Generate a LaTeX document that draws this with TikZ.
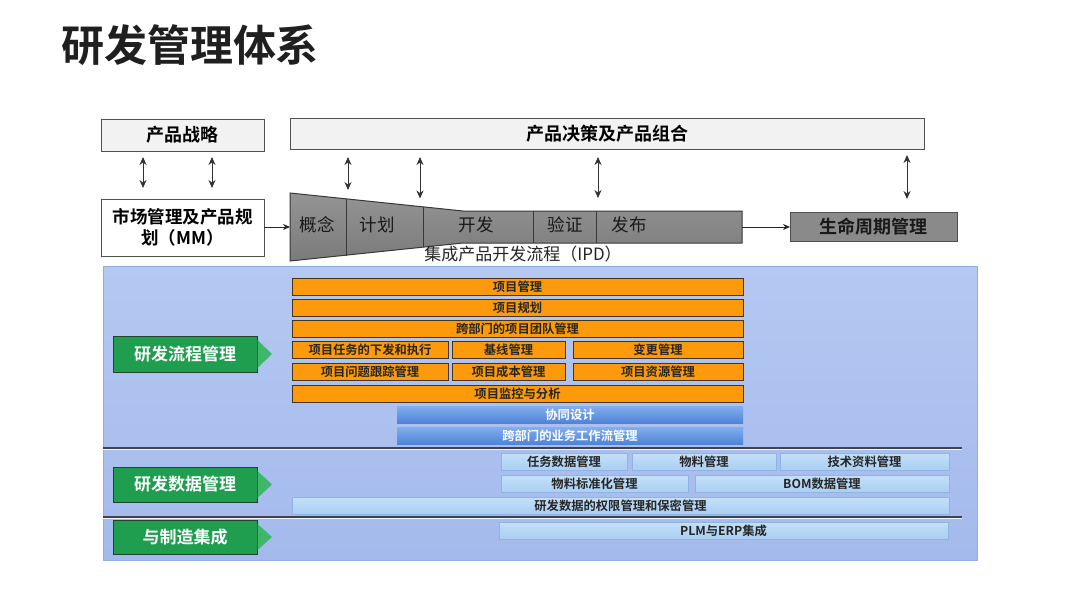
\documentclass[tikz,border=0pt]{standalone}
\usepackage{fontspec}
\setmainfont{Noto Sans CJK SC}[BoldFont={Noto Sans CJK SC Bold}]
\usetikzlibrary{arrows.meta,calc}
\definecolor{boxgray}{HTML}{F2F2F2}
\definecolor{edgegray}{HTML}{505050}
\definecolor{phasegray}{HTML}{8A8A8A}
\definecolor{panelblue}{HTML}{AABFEF}
\definecolor{paneltop}{HTML}{B4C8F2}
\definecolor{panelbot}{HTML}{A4BAEC}
\definecolor{paneledge}{HTML}{8FB0E0}
\definecolor{orangebar}{HTML}{FC9A0C}
\definecolor{orangeedge}{HTML}{4A3418}
\definecolor{bluetop}{HTML}{82AEEF}
\definecolor{bluebot}{HTML}{4F84D8}
\definecolor{lighttop}{HTML}{C4E0F8}
\definecolor{lightbot}{HTML}{AACEF2}
\definecolor{lightedge}{HTML}{8DB4E2}
\definecolor{greenbox}{HTML}{1E9E4E}
\definecolor{greentip}{HTML}{3DB86A}
\definecolor{greenedge}{HTML}{22442E}
\definecolor{sepline}{HTML}{3C4250}
\newcommand\bx[7]{\node[#6, minimum width={(#4-#2)*1pt}, minimum height={(#5-#3)*1pt}] (#1) at ({(#2+#4)/2},{(#3+#5)/2}) {#7};}
\tikzset{
  base/.style={inner sep=0pt, outer sep=0pt, align=center},
  graybox/.style={base, draw=edgegray, line width=1pt, fill=boxgray, font=\fontsize{18}{20}\selectfont\bfseries},
  whitebox/.style={base, draw=edgegray, line width=1pt, fill=white, font=\fontsize{17.5}{21}\selectfont\bfseries},
  lcbox/.style={base, draw=edgegray, line width=1pt, fill=phasegray, font=\fontsize{18}{20}\selectfont\bfseries, text=black!90},
  phase/.style={base, font=\fontsize{17.5}{20}\selectfont, text=black!90},
  orange/.style={base, draw=orangeedge, line width=1pt, fill=orangebar, font=\fontsize{12.3}{14}\selectfont\bfseries, text=black!85},
  bluebar/.style={base, top color=bluetop, bottom color=bluebot, font=\fontsize{12.3}{14}\selectfont\bfseries, text=white},
  lightbar/.style={base, draw=lightedge, line width=0.7pt, top color=lighttop, bottom color=lightbot, font=\fontsize{12.3}{14}\selectfont\bfseries, text=black!85},
  greenlbl/.style={base, draw=greenedge, line width=1pt, fill=greenbox, font=\fontsize{17}{19}\selectfont\bfseries, text=white},
  dbl/.style={{Stealth[length=8pt,width=7pt]}-{Stealth[length=8pt,width=7pt]}, line width=0.8pt, draw=black!80},
  arr/.style={-{Stealth[length=7pt,width=6pt]}, line width=0.8pt, draw=black!85},
  sep/.style={draw=sepline, line width=1.2pt},
}
\begin{document}
\begin{tikzpicture}[x=1pt,y=-1pt]
\useasboundingbox (0,0) rectangle (1080,608);
\fill[white] (0,0) rectangle (1080,608);

% title
\node[base, anchor=west, font=\fontsize{43}{48}\selectfont\bfseries, text=black!88] (title) at (61,45) {研发管理体系};

% top boxes
\bx{ps}{101}{119}{264}{151}{graybox}{产品战略}
\bx{dec}{290}{118}{924}{149}{graybox}{产品决策及产品组合}
\bx{mm}{101}{199}{264}{256}{whitebox}{市场管理及产品规\\划（MM）}
\bx{lc}{790}{212}{957}{241}{lcbox}{生命周期管理}

% funnel
\draw[draw=black!78, line width=1pt, top color=black!42, bottom color=black!52]
  (290,193) -- (463,211) -- (742,211) -- (742,243) -- (463,243) -- (290,261) -- cycle;
\draw[draw=black!78, line width=1pt] (346,199) -- (346,255.5);
\draw[draw=black!78, line width=1pt] (423,207) -- (423,247);
\draw[draw=black!78, line width=1pt] (533,211) -- (533,243);
\draw[draw=black!78, line width=1pt] (596,211) -- (596,243);
\coordinate (fin) at (290,227);
\coordinate (fout) at (742,227);
\coordinate (ft1) at (348,199);
\coordinate (ft2) at (420,206.5);
\coordinate (ft3) at (598,211);
\node[phase] (p1) at (317,225) {概念};
\node[phase] (p2) at (377,225) {计划};
\node[phase] (p3) at (476,225) {开发};
\node[phase] (p4) at (565,225) {验证};
\node[phase] (p5) at (629,225) {发布};
\node[base, font=\fontsize{17}{19}\selectfont, text=black!85] (ipd) at (523,254) {集成产品开发流程（IPD）};

% arrows
\draw[dbl, shorten <=6pt, shorten >=11pt] ($(ps.south)+(-39.5,0)$) -- ($(mm.north)+(-39.5,0)$);
\draw[dbl, shorten <=6pt, shorten >=11pt] ($(ps.south)+(29.5,0)$) -- ($(mm.north)+(29.5,0)$);
\draw[dbl, shorten <=8pt, shorten >=9pt] (dec.south -| ft1) -- (ft1);
\draw[dbl, shorten <=8pt, shorten >=8pt] (dec.south -| ft2) -- (ft2);
\draw[dbl, shorten <=8pt, shorten >=13pt] (dec.south -| ft3) -- (ft3);
\coordinate (lcup) at ($(lc.north)+(33.5,0)$);
\draw[dbl, shorten <=6pt, shorten >=13pt] (dec.south -| lcup) -- (lcup);
\draw[arr] (mm.east |- fin) -- (fin);
\draw[arr] (fout) -- (lc.west |- fout);

% panel
\node[base, draw=paneledge, line width=1pt, top color=paneltop, bottom color=panelbot, minimum width=874pt, minimum height=294pt] (panel) at (540,413) {};
\coordinate (s1) at (962,448);
\coordinate (s2) at (962,517);
\draw[sep] (panel.west |- s1) -- (s1);
\draw[white!85!panelblue, line width=0.8pt] ([yshift=-1.5pt]panel.west |- s1) -- ([yshift=-1.5pt]s1);
\draw[sep] (panel.west |- s2) -- (s2);
\draw[white!85!panelblue, line width=0.8pt] ([yshift=-1.5pt]panel.west |- s2) -- ([yshift=-1.5pt]s2);

% green labels
\bx{g1}{113}{336}{257}{372}{greenlbl}{研发流程管理}
\bx{g2}{113}{467}{257}{502}{greenlbl}{研发数据管理}
\bx{g3}{113}{520}{257}{554}{greenlbl}{与制造集成}
\fill[greentip] ($(g1.north east)+(0.5,4)$) -- ($(g1.east)+(15,0)$) -- ($(g1.south east)+(0.5,-4)$) -- cycle;
\fill[greentip] ($(g2.north east)+(0.5,4)$) -- ($(g2.east)+(15,0)$) -- ($(g2.south east)+(0.5,-4)$) -- cycle;
\fill[greentip] ($(g3.north east)+(0.5,4)$) -- ($(g3.east)+(15,0)$) -- ($(g3.south east)+(0.5,-4)$) -- cycle;

% orange bars
\bx{o1}{292}{278}{743}{295}{orange}{项目管理}
\bx{o2}{292}{299}{743}{316}{orange}{项目规划}
\bx{o3}{292}{320}{743}{337}{orange}{跨部门的项目团队管理}
\bx{o4}{292}{341}{448}{358}{orange}{项目任务的下发和执行}
\bx{o5}{452}{341}{565}{358}{orange}{基线管理}
\bx{o6}{573}{341}{743}{358}{orange}{变更管理}
\bx{o7}{292}{363}{448}{380}{orange}{项目问题跟踪管理}
\bx{o8}{452}{363}{565}{380}{orange}{项目成本管理}
\bx{o9}{573}{363}{743}{380}{orange}{项目资源管理}
\bx{o10}{292}{385}{743}{402}{orange}{项目监控与分析}

% blue bars
\bx{b1}{397}{406}{743}{423}{bluebar}{协同设计}
\bx{b2}{397}{427}{743}{444}{bluebar}{跨部门的业务工作流管理}

% light bars
\bx{l1}{501}{453}{627}{470}{lightbar}{任务数据管理}
\bx{l2}{632}{453}{776}{470}{lightbar}{物料管理}
\bx{l3}{780}{453}{949}{470}{lightbar}{技术资料管理}
\bx{l4}{501}{475}{688}{492}{lightbar}{物料标准化管理}
\bx{l5}{695}{475}{949}{492}{lightbar}{BOM数据管理}
\bx{l6}{292}{497}{949}{514}{lightbar}{研发数据的权限管理和保密管理}
\bx{l7}{499}{522}{948}{539}{lightbar}{PLM与ERP集成}
\end{tikzpicture}
\end{document}
